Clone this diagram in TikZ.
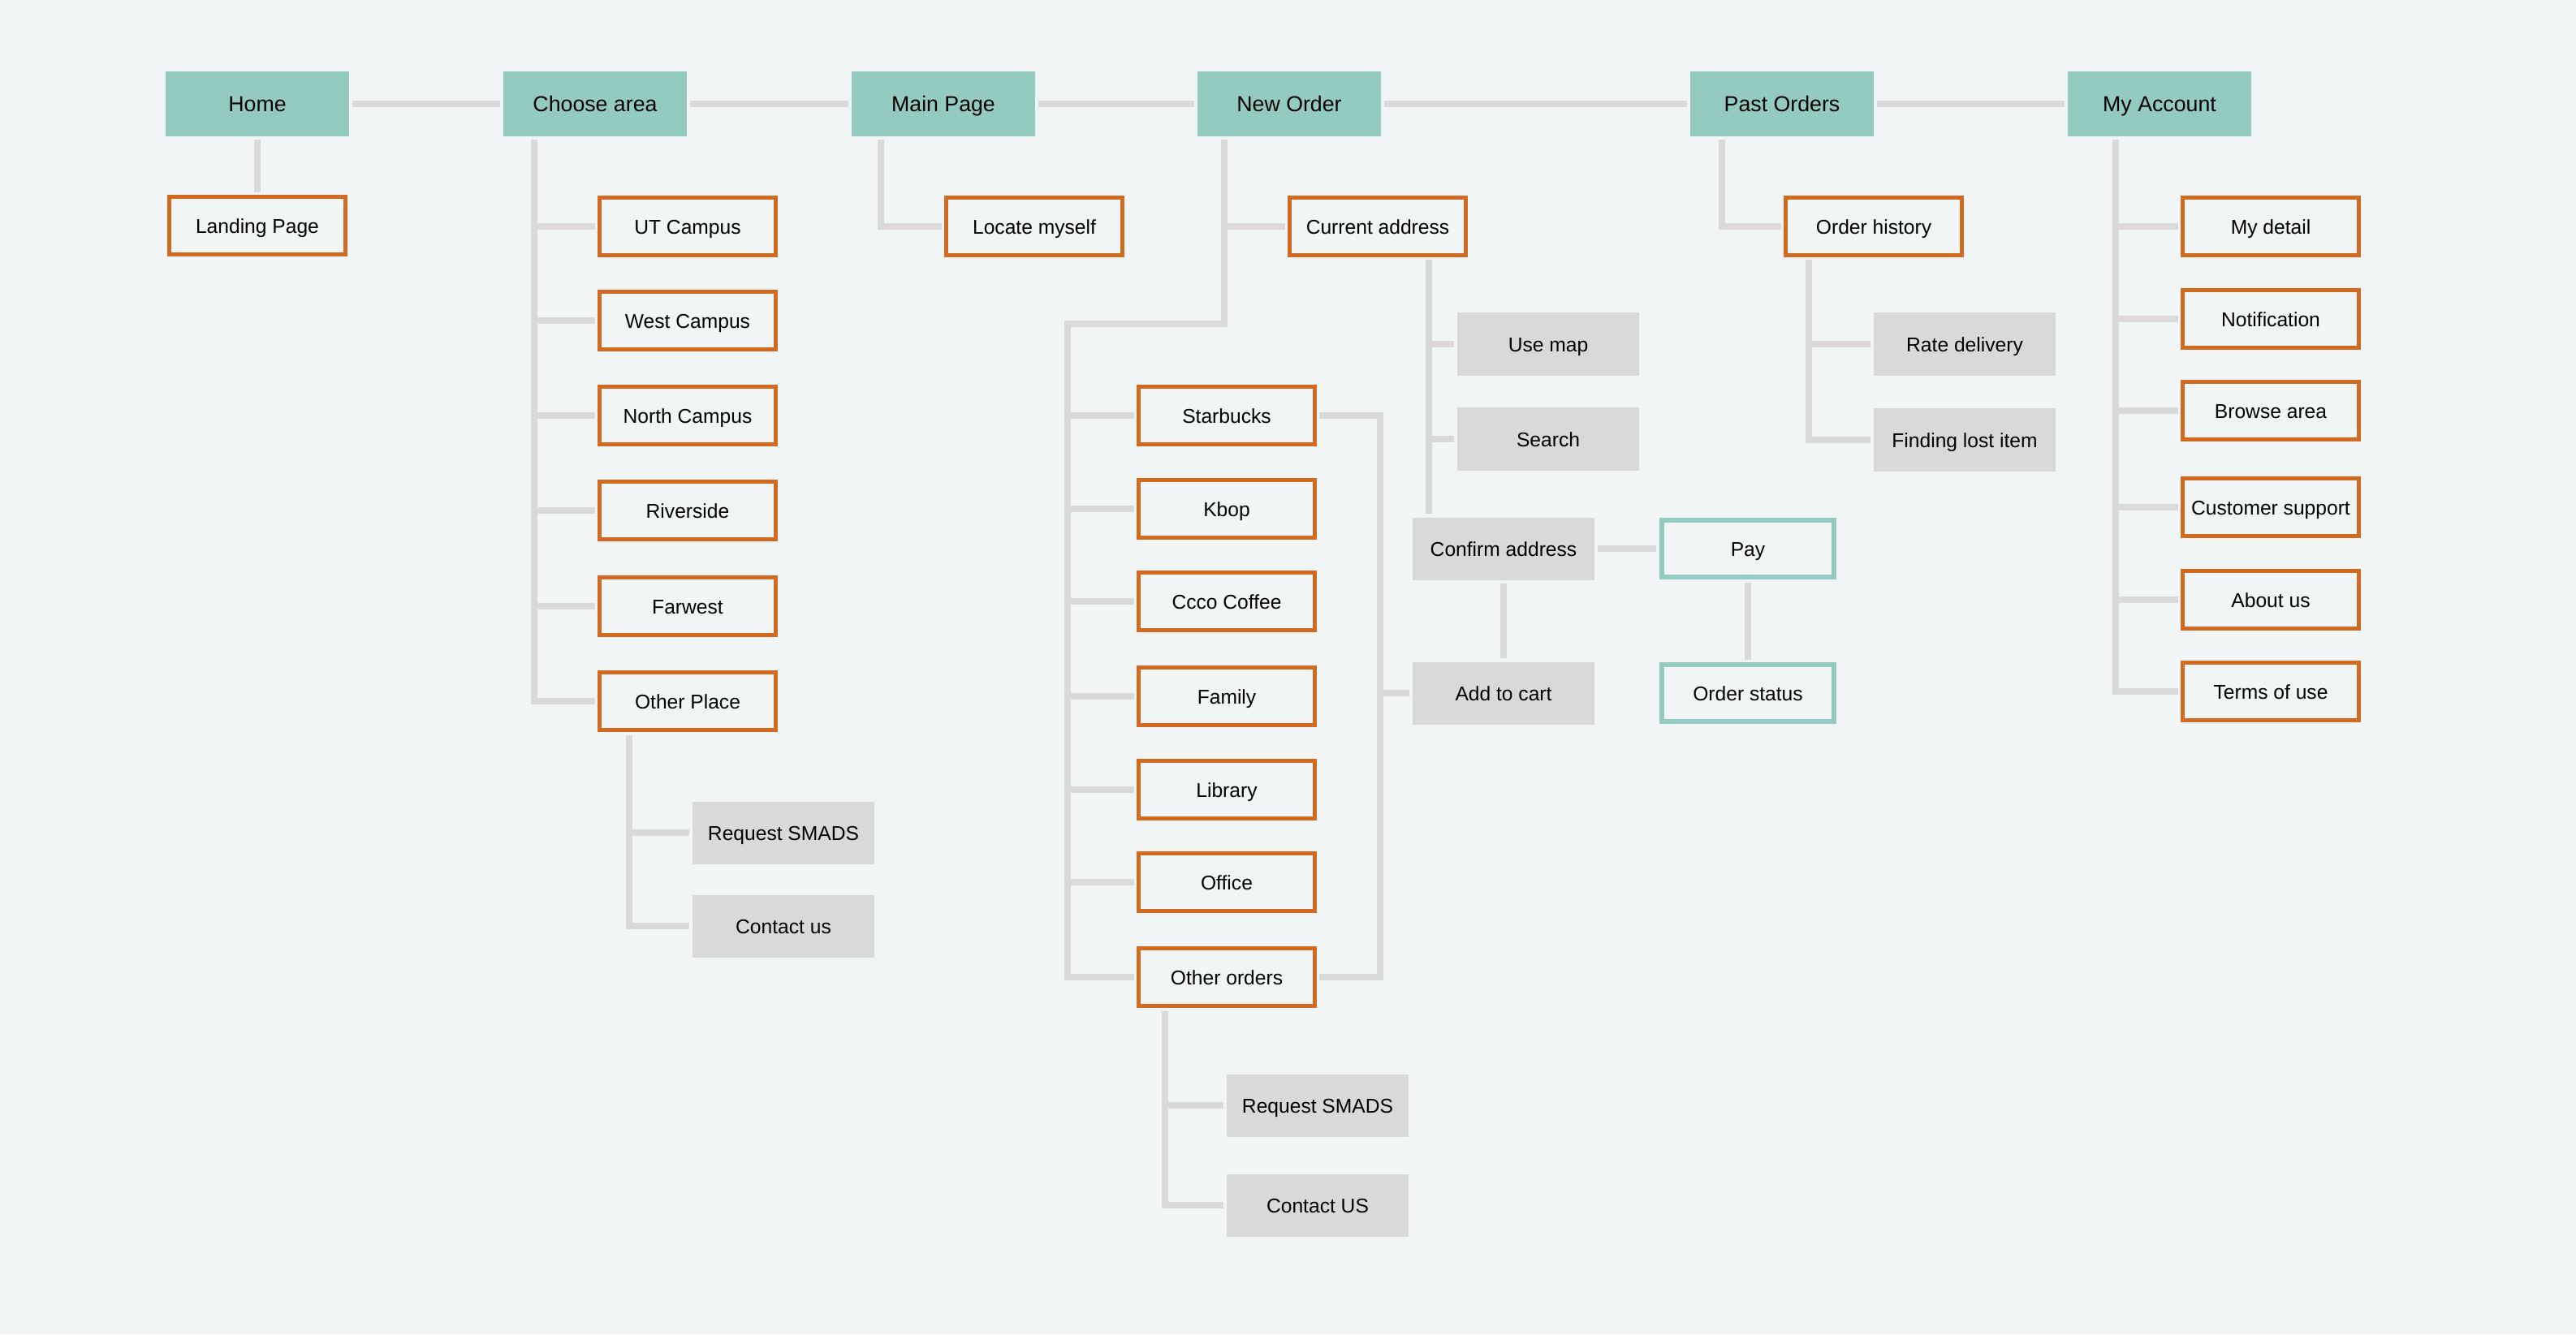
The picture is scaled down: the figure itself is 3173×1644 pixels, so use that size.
\documentclass[tikz,border=0pt]{standalone}
\usepackage{fontspec}
\setmainfont{Liberation Sans}
\usepackage{tikz}
\usetikzlibrary{positioning}

\definecolor{bgcol}{HTML}{F2F5F5}
\definecolor{tealcol}{HTML}{94CBC1}
\definecolor{orangecol}{HTML}{D26B22}
\definecolor{greycol}{HTML}{D9D9D9}

\tikzset{
  every node/.style={text height=0.72em,text depth=0.2em},
  topbox/.style={fill=tealcol,minimum width=2.25cm,minimum height=0.80cm,inner sep=0pt,font=\fontsize{7.6}{9}\selectfont},
  pagebox/.style={draw=orangecol,line width=0.045cm,fill=bgcol,minimum width=2.17cm,minimum height=0.71cm,inner sep=0pt,font=\fontsize{7}{9}\selectfont},
  actbox/.style={fill=greycol,minimum width=2.23cm,minimum height=0.77cm,inner sep=0pt,font=\fontsize{7}{9}\selectfont},
  paybox/.style={draw=tealcol,line width=0.06cm,fill=bgcol,minimum width=2.12cm,minimum height=0.70cm,inner sep=0pt,font=\fontsize{7}{9}\selectfont},
  link/.style={draw=greycol,line width=0.08cm,line join=miter,shorten <=0.035cm,shorten >=0.035cm}
}

\begin{document}
\begin{tikzpicture}[x=0.01cm,y=-0.01cm]
\fill[bgcol] (0,0) rectangle (3173,1644);
\useasboundingbox (0,0) rectangle (3173,1644);

% top row
\node[topbox] (home) at (317,128) {Home};
\node[topbox] (choose) at (733,128) {Choose area};
\node[topbox] (mainp) at (1162,128) {Main Page};
\node[topbox] (neworder) at (1588,128) {New Order};
\node[topbox] (past) at (2195,128) {Past Orders};
\node[topbox] (account) at (2660,128) {My Account};

\draw[link] (home) -- (choose);
\draw[link] (choose) -- (mainp);
\draw[link] (mainp) -- (neworder);
\draw[link] (neworder) -- (past);
\draw[link] (past) -- (account);

% home
\node[pagebox] (landing) at (317,278) {Landing Page};
\draw[link] (home) -- (landing);

% choose area
\node[pagebox] (utc) at (847,279) {UT Campus};
\node[pagebox] (westc) at (847,395) {West Campus};
\node[pagebox] (northc) at (847,512) {North Campus};
\node[pagebox] (river) at (847,629) {Riverside};
\node[pagebox] (farw) at (847,747) {Farwest};
\node[pagebox] (otherpl) at (847,864) {Other Place};
\node[actbox] (reqa) at (965,1026) {Request SMADS};
\node[actbox] (contacta) at (965,1141) {Contact us};

\coordinate (chooseT) at (658,168);
\draw[link] (chooseT) |- (otherpl);
\foreach \n in {utc,westc,northc,river,farw}
  \draw[link] (\n) -- (\n -| chooseT);
\coordinate (otherT) at (775,902);
\draw[link] (otherT) |- (contacta);
\draw[link] (reqa) -- (reqa -| otherT);

% main page
\node[pagebox] (locate) at (1274,279) {Locate myself};
\coordinate (mainT) at (1085,168);
\draw[link] (mainT) |- (locate);

% new order
\node[pagebox] (curr) at (1697,279) {Current address};
\node[pagebox] (starb) at (1511,512) {Starbucks};
\node[pagebox] (kbop) at (1511,627) {Kbop};
\node[pagebox] (ccco) at (1511,741) {Ccco Coffee};
\node[pagebox] (family) at (1511,858) {Family};
\node[pagebox] (library) at (1511,973) {Library};
\node[pagebox] (office) at (1511,1087) {Office};
\node[pagebox] (othord) at (1511,1204) {Other orders};
\node[actbox] (reqb) at (1623,1362) {Request SMADS};
\node[actbox] (contactb) at (1623,1485) {Contact US};

\coordinate (newT) at (1508,168);
\coordinate (shopT) at (1315,399);
\draw[link] (newT) |- (shopT) |- (othord);
\draw[link] (curr) -- (curr -| newT);
\foreach \n in {starb,kbop,ccco,family,library,office}
  \draw[link] (\n) -- (\n -| shopT);
\coordinate (shopR) at (1700,1204);
\draw[link] (starb) -| (shopR) -- (othord);
\coordinate (othT) at (1435,1242);
\draw[link] (othT) |- (contactb);
\draw[link] (reqb) -- (reqb -| othT);

% address and checkout
\node[actbox] (usemap) at (1907,424) {Use map};
\node[actbox] (search) at (1907,541) {Search};
\node[actbox] (confirm) at (1852,676) {Confirm address};
\node[actbox] (cart) at (1852,854) {Add to cart};
\node[paybox] (pay) at (2153,676) {Pay};
\node[paybox] (ostatus) at (2153,854) {Order status};

\coordinate (currT) at (1760,316);
\draw[link] (currT) -- (currT |- confirm.north);
\draw[link] (usemap) -- (usemap -| currT);
\draw[link] (search) -- (search -| currT);
\draw[link] (cart) -- (cart -| shopR);
\draw[link] (confirm) -- (cart);
\draw[link] (confirm) -- (pay);
\draw[link] (pay) -- (ostatus);

% past orders
\node[pagebox] (ohist) at (2308,279) {Order history};
\node[actbox] (rate) at (2420,424) {Rate delivery};
\node[actbox] (lost) at (2420,542) {Finding lost item};
\coordinate (pastT) at (2121,168);
\draw[link] (pastT) |- (ohist);
\coordinate (ohT) at (2228,316);
\draw[link] (ohT) |- (lost);
\draw[link] (rate) -- (rate -| ohT);

% my account
\node[pagebox] (mydetail) at (2797,279) {My detail};
\node[pagebox] (notif) at (2797,393) {Notification};
\node[pagebox] (browse) at (2797,506) {Browse area};
\node[pagebox] (support) at (2797,625) {Customer support};
\node[pagebox] (about) at (2797,739) {About us};
\node[pagebox] (terms) at (2797,852) {Terms of use};
\coordinate (accT) at (2606,168);
\draw[link] (accT) |- (terms);
\foreach \n in {mydetail,notif,browse,support,about}
  \draw[link] (\n) -- (\n -| accT);
\end{tikzpicture}
\end{document}
